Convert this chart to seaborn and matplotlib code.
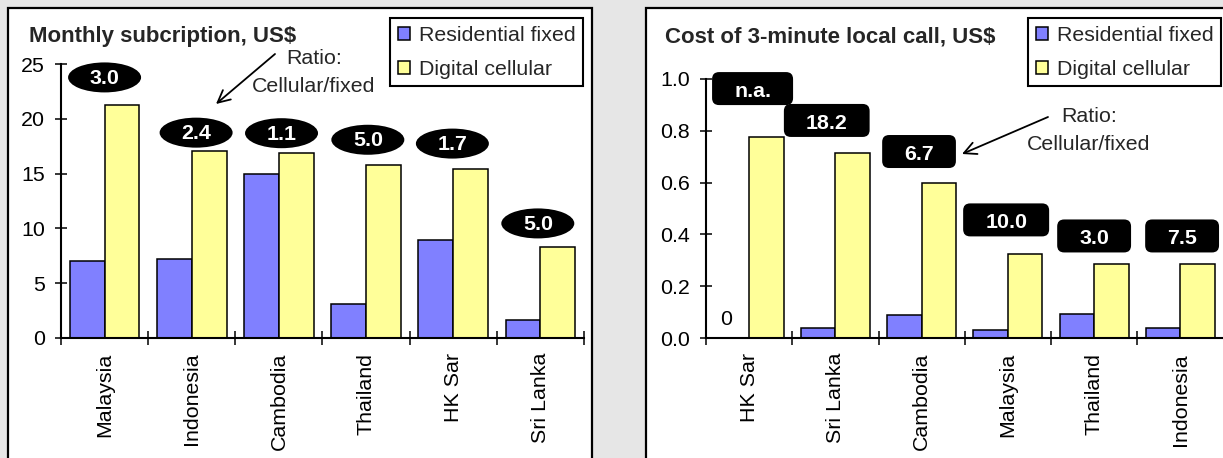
import numpy as np
import pandas as pd
import matplotlib
matplotlib.use("Agg")
import matplotlib.pyplot as plt
import seaborn as sns
from matplotlib.patches import Rectangle, Ellipse, FancyBboxPatch, Patch
from matplotlib.transforms import ScaledTranslation

# ---------------------------------------------------------------- data
series_names = ["Residential fixed", "Digital cellular"]

sub_countries = ["Malaysia", "Indonesia", "Cambodia", "Thailand", "HK Sar", "Sri Lanka"]
sub_fixed = [7.05, 7.2, 14.95, 3.1, 8.9, 1.6]
sub_cellular = [21.3, 17.1, 16.9, 15.8, 15.4, 8.3]
sub_ratio = ["3.0", "2.4", "1.1", "5.0", "1.7", "5.0"]

call_countries = ["HK Sar", "Sri Lanka", "Cambodia", "Malaysia", "Thailand", "Indonesia"]
call_fixed = [0.0, 0.039, 0.090, 0.032, 0.094, 0.038]
call_cellular = [0.777, 0.715, 0.600, 0.323, 0.284, 0.284]
call_ratio = ["n.a.", "18.2", "6.7", "10.0", "3.0", "7.5"]

# ---------------------------------------------------------------- style
W, H, DPI = 1223, 458, 100
BLUE, YELLOW, BG = "#8080FF", "#FFFF99", "#E6E6E6"
FS = 15.4
FS_TITLE = 16.0
FONT = ["Liberation Sans", "DejaVu Sans"]

sns.set_theme(style="white")
plt.rcParams["font.family"] = FONT
plt.rcParams["font.size"] = FS

# badge placement (lift above the cellular bar, sideways nudge in category units)
SUB_BADGE_LIFT = [2.5, 1.65, 1.8, 2.3, 2.35, 2.15]
SUB_BADGE_NUDGE = [0.0, 0.05, 0.03, 0.02, -0.01, -0.03]
CALL_BADGE_LIFT = [0.186, 0.125, 0.12, 0.133, 0.11, 0.11]
CALL_BADGE_NUDGE = [0.04, -0.1, -0.03, -0.02, 0.0, 0.02]


def fx(x):
    return x / W


def fy(y):
    return 1 - y / H


def long_frame(countries, fixed, cellular):
    return pd.DataFrame({
        "country": countries * 2,
        "series": [series_names[0]] * len(countries) + [series_names[1]] * len(countries),
        "value": list(fixed) + list(cellular),
    })


fig = plt.figure(figsize=(W / DPI, H / DPI), dpi=DPI, facecolor=BG)

# white panels with black borders
for x0, x1 in [(8, 592), (646, 1300)]:
    fig.add_artist(Rectangle((fx(x0), -0.1), fx(x1) - fx(x0), fy(8) + 0.1,
                             transform=fig.transFigure, facecolor="white",
                             edgecolor="black", linewidth=1.6, zorder=-5))

ax1 = fig.add_axes([fx(61), fy(337.7), fx(584) - fx(61), fy(64.3) - fy(337.7)])
ax2 = fig.add_axes([fx(706), fy(338), fx(1223.5) - fx(706), fy(79) - fy(338)])


def style_axes(ax, countries, ylim, yticks, yfmt):
    ax.set_facecolor("none")
    ax.set_xlim(-0.5, len(countries) - 0.5)
    ax.set_ylim(*ylim)
    ax.set_yticks(yticks)
    ax.set_yticklabels([yfmt.format(v) for v in yticks])
    ax.set_xticks(np.arange(-0.5, len(countries), 1.0))
    ax.set_xticklabels([])
    ax.set_xticks(np.arange(len(countries)), minor=True)
    ax.set_xticklabels(countries, minor=True, rotation=90)
    ax.tick_params(axis="y", direction="inout", length=8, width=1.1, pad=7.5,
                   labelsize=FS, colors="black", left=True)
    ax.tick_params(axis="x", which="major", direction="inout", length=9.5,
                   width=1.1, colors="black", bottom=True)
    ax.tick_params(axis="x", which="minor", length=0, pad=10.8, labelsize=FS,
                   colors="black")
    ax.set_xlabel("")
    ax.set_ylabel("")
    for side in ["top", "right"]:
        ax.spines[side].set_visible(False)
    for side in ["left", "bottom"]:
        ax.spines[side].set_visible(True)
        ax.spines[side].set_linewidth(1.5)
        ax.spines[side].set_color("black")
    for lab in ax.get_yticklabels() + ax.get_xticklabels(minor=True):
        lab.set_family(FONT)


def draw_bars(ax, countries, fixed, cellular):
    sns.barplot(data=long_frame(countries, fixed, cellular), x="country", y="value",
                hue="series", hue_order=series_names, order=countries,
                palette=[BLUE, YELLOW], edgecolor="black", linewidth=1.1,
                width=0.8, gap=0, errorbar=None, saturation=1, legend=False, ax=ax)


def add_legend(ax, right_px):
    handles = [Patch(facecolor=c, edgecolor="black", linewidth=1.1) for c in (BLUE, YELLOW)]
    leg = ax.legend(handles, series_names, loc="upper right",
                    bbox_to_anchor=(fx(right_px), fy(18)), bbox_transform=fig.transFigure,
                    frameon=True, fancybox=False, framealpha=1, edgecolor="black",
                    handlelength=0.55, handleheight=0.55, handletextpad=0.42,
                    borderpad=0.36, labelspacing=0.7, borderaxespad=0,
                    prop={"family": FONT, "size": FS})
    leg.get_frame().set_linewidth(1.5)


def ratio_note(ax, text_xy, tail_xy, head_xy):
    ax.annotate("Ratio:\nCellular/fixed", xy=(fx(text_xy[0]), fy(text_xy[1])),
                xycoords="figure fraction", ha="center", va="center",
                multialignment="center", linespacing=1.6, fontsize=FS,
                family=FONT, annotation_clip=False)
    ax.annotate("", xy=(fx(head_xy[0]), fy(head_xy[1])), xycoords="figure fraction",
                xytext=(fx(tail_xy[0]), fy(tail_xy[1])), textcoords="figure fraction",
                arrowprops=dict(arrowstyle="->", color="black", lw=1.3,
                                mutation_scale=22, shrinkA=0, shrinkB=0),
                annotation_clip=False)


def anchor(ax, x, y):
    return fig.dpi_scale_trans + ScaledTranslation(x, y, ax.transData)


# ------------------------------------------------ left: monthly subscription
draw_bars(ax1, sub_countries, sub_fixed, sub_cellular)
style_axes(ax1, sub_countries, (0, 25), [0, 5, 10, 15, 20, 25], "{:g}")
add_legend(ax1, 583)
fig.text(fx(29), fy(42), "Monthly subcription, US$", ha="left", va="baseline",
         fontsize=FS_TITLE, fontweight="bold", family=FONT)
ratio_note(ax1, (314, 72), (275, 54), (216, 104))

for i, (lab, top) in enumerate(zip(sub_ratio, sub_cellular)):
    cx, cy = i + SUB_BADGE_NUDGE[i], top + SUB_BADGE_LIFT[i]
    tr = anchor(ax1, cx, cy)
    ax1.add_patch(Ellipse((0, 0), 0.73, 0.30, transform=tr, facecolor="black",
                          edgecolor="none", clip_on=False, zorder=5))
    ax1.text(0, -0.01, lab, transform=tr, ha="center", va="center", color="white",
             fontsize=FS, fontweight="bold", family=FONT, zorder=6, clip_on=False)

# ------------------------------------------------ right: 3-minute local call
draw_bars(ax2, call_countries, call_fixed, call_cellular)
style_axes(ax2, call_countries, (0, 1.0), [0.0, 0.2, 0.4, 0.6, 0.8, 1.0], "{:.1f}")
add_legend(ax2, 1221)
fig.text(fx(665), fy(43), "Cost of 3-minute local call, US$", ha="left", va="baseline",
         fontsize=FS_TITLE, fontweight="bold", family=FONT)
ratio_note(ax2, (1089, 131), (1048, 117), (962, 154))

renderer = fig.canvas.get_renderer()
for i, (lab, top) in enumerate(zip(call_ratio, call_cellular)):
    cx, cy = i + CALL_BADGE_NUDGE[i], top + CALL_BADGE_LIFT[i]
    tr = anchor(ax2, cx, cy)
    t = ax2.text(0, -0.03, lab, transform=tr, ha="center", va="center", color="white",
                 fontsize=FS, fontweight="bold", family=FONT, zorder=6, clip_on=False)
    w = (t.get_window_extent(renderer).width + 44) / DPI
    h = 0.33
    ax2.add_patch(FancyBboxPatch((-w / 2, -h / 2), w, h,
                                 boxstyle="round,pad=0,rounding_size=0.07",
                                 transform=tr, facecolor="black", edgecolor="none",
                                 clip_on=False, zorder=5))

# the fixed-line value that is zero is written out next to its (empty) bar
ax2.text(-0.27, call_fixed[0] + 0.035, "0", ha="center", va="bottom",
         fontsize=FS, family=FONT, color="black")

fig.savefig("out.png", dpi=DPI, facecolor=BG)
